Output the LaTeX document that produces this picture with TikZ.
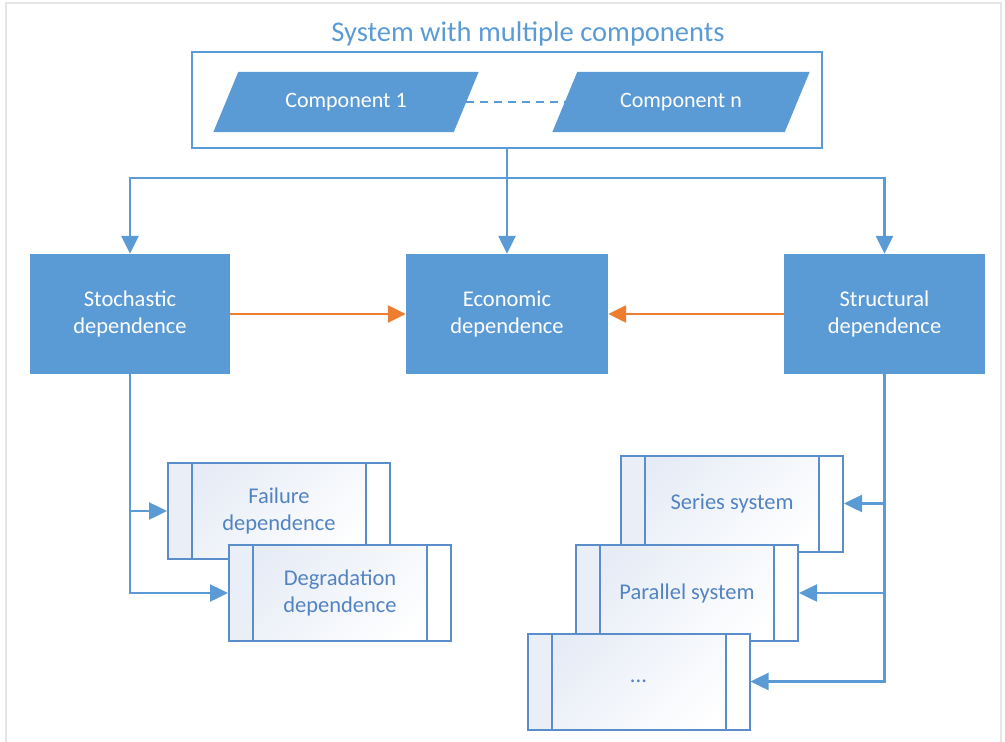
\documentclass[tikz,border=0pt]{standalone}
\usepackage{fontspec}
\setmainfont{Carlito}
\usetikzlibrary{arrows.meta,backgrounds,calc}
\definecolor{mblue}{HTML}{5B9BD5}
\definecolor{lblue}{HTML}{5A8ECB}
\definecolor{tblue}{HTML}{5384C2}
\definecolor{morange}{HTML}{ED7D31}
\definecolor{shadeblue}{HTML}{E6ECF6}
\definecolor{stripblue}{HTML}{E9EEF7}
\begin{document}
\begin{tikzpicture}[x=1pt,y=-1pt,
  txt/.style={font=\fontsize{22.5}{27}\selectfont},
  mainbox/.style={txt,fill=mblue,text=white,align=center,minimum width=201pt,minimum height=120pt,inner sep=0pt},
  comp/.style={font=\fontsize{22}{26}\selectfont,text=white,minimum height=60pt,inner sep=0pt},
  subbox/.style={txt,draw=lblue,line width=2pt,text=tblue,align=center,minimum width=222pt,minimum height=96pt,inner sep=0pt,
    top color=shadeblue,bottom color=white,shading angle=45,
    path picture={
      \fill[stripblue] (path picture bounding box.north west) rectangle ([xshift=24pt]path picture bounding box.south west);
      \draw[lblue,line width=2pt] ([xshift=24pt]path picture bounding box.north west) -- ([xshift=24pt]path picture bounding box.south west);
      \fill[white] ([xshift=-24pt]path picture bounding box.north east) rectangle (path picture bounding box.south east);
      \draw[lblue,line width=2pt] ([xshift=-24pt]path picture bounding box.north east) -- ([xshift=-24pt]path picture bounding box.south east);
    }},
  conn/.style={mblue,line width=2.5pt,-{Triangle[length=18pt,width=17pt]}},
  oconn/.style={morange,line width=2.5pt,-{Triangle[length=18pt,width=17pt]}},
  plainline/.style={mblue,line width=2.5pt}
]
\useasboundingbox (0,0) rectangle (1005,742);
% faint page frame
\draw[black!10,line width=1.2pt] (6,745) -- (6,3) -- (1001,3) -- (1001,745);

% title and system box
\node[font=\fontsize{28.5}{32}\selectfont,text=mblue] (title) at (528,34) {System with multiple components};
\node[draw=mblue,line width=2.2pt,minimum width=630pt,minimum height=96pt,inner sep=0pt] (sys) at (507,100) {};

% components
\node[comp,minimum width=240pt] (c1) at (346,102) {Component 1};
\node[comp,minimum width=232pt] (cn) at (681,102) {Component n};
\begin{scope}[on background layer]
  \fill[mblue] ([xshift=-12.5pt]c1.south west) -- ([xshift=-12.5pt]c1.south east) -- ([xshift=12.5pt]c1.north east) -- ([xshift=12.5pt]c1.north west) -- cycle;
  \fill[mblue] ([xshift=-12.5pt]cn.south west) -- ([xshift=-12.5pt]cn.south east) -- ([xshift=12.5pt]cn.north east) -- ([xshift=12.5pt]cn.north west) -- cycle;
\end{scope}
\draw[mblue,line width=2.5pt,dash pattern=on 8pt off 6pt] (c1.east) -- (cn.west);

% main boxes
\node[mainbox,minimum width=200pt] (sto) at (130,314) {Stochastic\\dependence};
\node[mainbox,minimum width=202pt] (eco) at (507,314) {Economic\\dependence};
\node[mainbox,minimum width=201pt] (str) at (884.5,314) {Structural\\dependence};

\coordinate (br) at (507,178);
\draw[plainline] (sys.south) -- (br);
\draw[conn] (br) -- (eco.north);
\draw[conn] (br) -| (sto.north);
\draw[conn] (br) -| (str.north);

\draw[oconn] (sto.east) -- (eco.west);
\draw[oconn] (str.west) -- (eco.east);

% lower left
\node[subbox] (fail) at (279,511) {Failure\\dependence};
\node[subbox] (deg) at (340,593) {Degradation\\dependence};
\draw[conn] (sto.south) |- (deg.west);
\draw[conn] (sto.south |- fail.west) -- (fail.west);

% lower right
\node[subbox] (ser) at (732,503.5) {Series system};
\node[subbox] (par) at (687,593) {Parallel system};
\node[subbox] (dots) at (638.5,681.5) {...};
\draw[conn] (str.south) |- (dots.east);
\draw[conn] (str.south |- ser.east) -- (ser.east);
\draw[conn] (str.south |- par.east) -- (par.east);
\end{tikzpicture}
\end{document}
